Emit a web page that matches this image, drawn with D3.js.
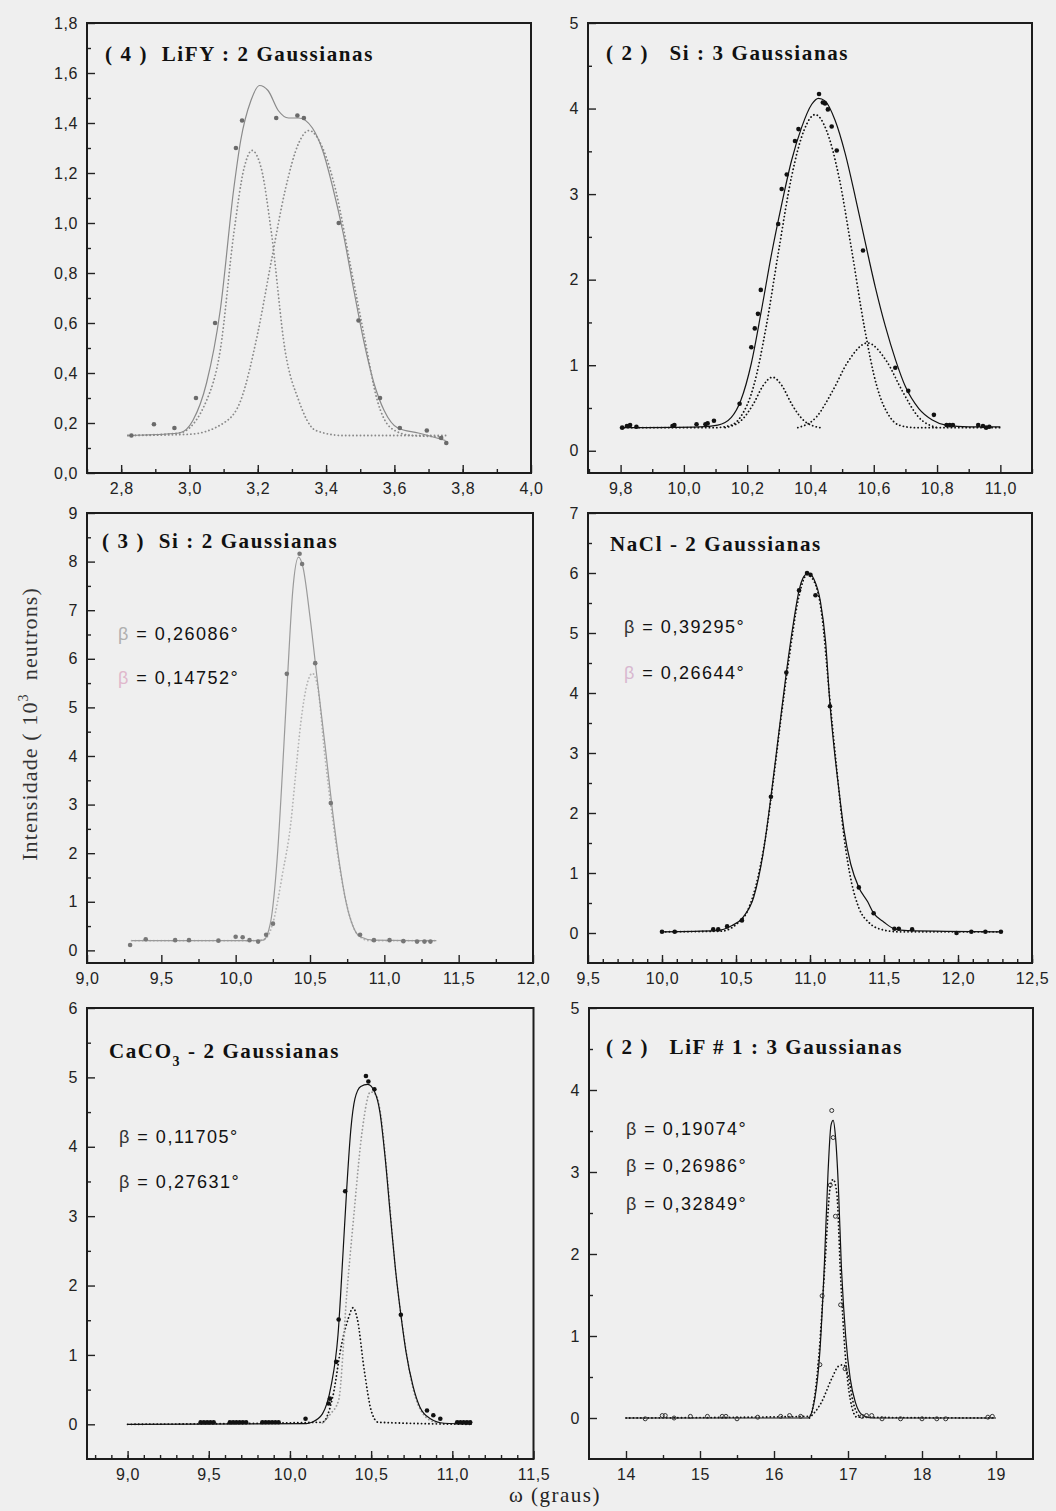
<!DOCTYPE html>
<html>
<head>
<meta charset="utf-8">
<script src="https://cdn.jsdelivr.net/npm/d3@7"></script>
<style>
  body { margin: 0; background: #efefef; }
  svg { display: block; }
</style>
</head>
<body>
<svg width="1056" height="1511"></svg>
<script>
// ---- (4) LiFY ----
var p1XTicks = [2.8, 3.0, 3.2, 3.4, 3.6, 3.8, 4.0],
    p1YTicks = [0, 0.2, 0.4, 0.6, 0.8, 1.0, 1.2, 1.4, 1.6, 1.8];
var p1Dots = [[2.83,0.15],[2.896,0.195],[2.956,0.18],[3.019,0.30],[3.075,0.60],[3.136,1.30],[3.154,1.41],[3.254,1.42],[3.316,1.43],[3.335,1.42],[3.437,1.00],[3.495,0.61],[3.558,0.30],[3.616,0.18],[3.695,0.17],[3.737,0.14],[3.752,0.12]];
var p1Fit = [[2.82,0.15],[2.97,0.16],[3.01,0.21],[3.05,0.36],[3.09,0.65],[3.13,1.14],[3.15,1.33],[3.18,1.49],[3.205,1.55],[3.23,1.53],[3.26,1.45],[3.29,1.42],[3.32,1.42],[3.36,1.38],[3.39,1.29],[3.42,1.14],[3.45,0.96],[3.48,0.74],[3.51,0.53],[3.54,0.36],[3.57,0.25],[3.61,0.18],[3.67,0.16],[3.75,0.13]];
var p1G1 = [[2.82,0.15],[2.97,0.16],[3.05,0.29],[3.09,0.49],[3.13,0.96],[3.16,1.22],[3.183,1.29],[3.21,1.22],[3.24,0.96],[3.28,0.49],[3.32,0.29],[3.37,0.17],[3.45,0.15],[3.75,0.15]];
var p1G2 = [[2.82,0.15],[3.0,0.155],[3.10,0.20],[3.15,0.29],[3.20,0.56],[3.24,0.85],[3.28,1.13],[3.32,1.32],[3.35,1.37],[3.39,1.30],[3.43,1.12],[3.47,0.84],[3.51,0.56],[3.55,0.29],[3.59,0.18],[3.65,0.15],[3.75,0.145]];

// ---- (2) Si : 3 Gaussianas ----
var p2XTicks = [9.8, 10.0, 10.2, 10.4, 10.6, 10.8, 11.0],
    p2YTicks = [0, 1, 2, 3, 4, 5];
var p2Dots = [[9.805,0.27],[9.82,0.29],[9.83,0.30],[9.85,0.28],[9.964,0.29],[9.97,0.30],[10.04,0.31],[10.068,0.31],[10.075,0.32],[10.095,0.35],[10.176,0.55],[10.213,1.21],[10.224,1.43],[10.234,1.60],[10.243,1.88],[10.298,2.65],[10.309,3.06],[10.325,3.23],[10.351,3.62],[10.362,3.76],[10.427,4.17],[10.439,4.07],[10.446,4.06],[10.455,3.99],[10.467,3.79],[10.483,3.51],[10.566,2.34],[10.668,0.97],[10.709,0.70],[10.79,0.42],[10.83,0.30],[10.84,0.30],[10.85,0.30],[10.93,0.30],[10.945,0.29],[10.955,0.27],[10.965,0.28]];
var p2Fit = [[9.80,0.27],[10.05,0.28],[10.107,0.30],[10.15,0.39],[10.18,0.59],[10.213,1.02],[10.245,1.64],[10.277,2.30],[10.309,2.88],[10.34,3.39],[10.372,3.78],[10.404,4.05],[10.425,4.12],[10.446,4.09],[10.478,3.86],[10.51,3.47],[10.542,2.96],[10.574,2.42],[10.605,1.91],[10.637,1.45],[10.669,1.06],[10.70,0.75],[10.743,0.49],[10.785,0.36],[10.828,0.30],[10.9,0.28],[11.0,0.28]];
var p2Main = [[9.80,0.27],[10.10,0.27],[10.15,0.30],[10.18,0.40],[10.22,0.75],[10.26,1.45],[10.30,2.35],[10.34,3.20],[10.38,3.75],[10.415,3.93],[10.45,3.75],[10.49,3.20],[10.53,2.35],[10.57,1.45],[10.61,0.75],[10.65,0.40],[10.68,0.30],[10.73,0.27],[11.0,0.27]];
var p2Left = [[10.13,0.27],[10.18,0.35],[10.22,0.55],[10.25,0.76],[10.28,0.86],[10.31,0.76],[10.34,0.55],[10.38,0.35],[10.43,0.27]];
var p2Right = [[10.36,0.27],[10.42,0.40],[10.47,0.70],[10.52,1.05],[10.58,1.26],[10.64,1.05],[10.69,0.70],[10.74,0.40],[10.80,0.27]];

// ---- (3) Si : 2 Gaussianas ----
var p3XTicks = [9.0, 9.5, 10.0, 10.5, 11.0, 11.5, 12.0],
    p3YTicks = [0, 1, 2, 3, 4, 5, 6, 7, 8, 9];
var p3Dots = [[9.29,0.11],[9.395,0.23],[9.593,0.21],[9.686,0.21],[9.884,0.20],[10.0,0.28],[10.047,0.27],[10.093,0.21],[10.151,0.18],[10.205,0.32],[10.251,0.55],[10.344,5.69],[10.43,8.16],[10.447,7.95],[10.535,5.91],[10.64,3.03],[10.837,0.32],[10.93,0.21],[11.035,0.21],[11.128,0.19],[11.22,0.18],[11.27,0.18],[11.31,0.18]];
var p3Fit = [[9.30,0.2],[10.10,0.2],[10.186,0.21],[10.233,0.55],[10.28,1.92],[10.314,3.64],[10.349,5.62],[10.384,7.40],[10.423,8.09],[10.453,7.88],[10.5,6.86],[10.547,5.62],[10.605,4.12],[10.651,2.88],[10.698,1.79],[10.744,0.97],[10.79,0.49],[10.837,0.28],[10.93,0.21],[11.35,0.2]];
var p3Big = [[9.30,0.2],[10.15,0.2],[10.2,0.24],[10.25,0.56],[10.316,1.59],[10.371,2.62],[10.404,3.65],[10.438,4.68],[10.482,5.5],[10.516,5.7],[10.55,5.45],[10.6,4.0],[10.65,2.75],[10.7,1.7],[10.75,0.9],[10.8,0.42],[10.85,0.25],[10.9,0.2],[11.35,0.2]];

// ---- NaCl - 2 Gaussianas ----
var p4XTicks = [9.5, 10.0, 10.5, 11.0, 11.5, 12.0, 12.5],
    p4YTicks = [0, 1, 2, 3, 4, 5, 6, 7];
var p4Dots = [[10.0,0.02],[10.086,0.02],[10.346,0.06],[10.38,0.06],[10.44,0.11],[10.54,0.21],[10.736,2.27],[10.84,4.34],[10.926,5.71],[10.98,6.0],[11.003,5.97],[11.037,5.63],[11.135,3.78],[11.33,0.76],[11.43,0.33],[11.57,0.07],[11.60,0.07],[11.69,0.06],[11.99,0.0],[12.09,0.02],[12.185,0.02],[12.29,0.02]];
var p4Fit = [[10.0,0.02],[10.37,0.04],[10.47,0.12],[10.55,0.27],[10.62,0.6],[10.686,1.37],[10.736,2.27],[10.788,3.31],[10.84,4.34],[10.89,5.2],[10.926,5.71],[10.958,5.94],[10.99,6.0],[11.026,5.9],[11.07,5.53],[11.105,4.86],[11.135,3.81],[11.16,3.15],[11.196,2.37],[11.23,1.71],[11.275,1.15],[11.33,0.76],[11.39,0.52],[11.43,0.33],[11.5,0.18],[11.57,0.07],[11.66,0.04],[12.29,0.02]];
var p4Comp = [[10.0,0.02],[10.40,0.03],[10.50,0.14],[10.58,0.38],[10.65,0.95],[10.70,1.6],[10.75,2.5],[10.80,3.5],[10.86,4.6],[10.92,5.55],[10.98,5.97],[11.03,5.85],[11.08,5.3],[11.13,4.0],[11.18,2.75],[11.23,1.6],[11.28,0.85],[11.33,0.42],[11.40,0.17],[11.48,0.06],[11.6,0.02],[12.29,0.02]];

// ---- CaCO3 - 2 Gaussianas ----
var p5XTicks = [9.0, 9.5, 10.0, 10.5, 11.0, 11.5],
    p5YTicks = [0, 1, 2, 3, 4, 5, 6];
var p5Dots = [[9.45,0.03],[9.47,0.03],[9.49,0.03],[9.51,0.03],[9.53,0.03],[9.63,0.03],[9.65,0.03],[9.67,0.03],[9.69,0.03],[9.71,0.03],[9.73,0.03],[9.83,0.03],[9.85,0.03],[9.87,0.03],[9.89,0.03],[9.91,0.03],[9.93,0.03],[10.096,0.08],[10.238,0.30],[10.246,0.37],[10.285,0.90],[10.30,1.51],[10.34,3.36],[10.468,5.02],[10.483,4.94],[10.52,4.83],[10.683,1.58],[10.844,0.20],[10.883,0.13],[10.926,0.08],[11.03,0.03],[11.05,0.03],[11.07,0.03],[11.09,0.03],[11.11,0.03]];
var p5Fit = [[9.0,0.0],[10.1,0.01],[10.135,0.03],[10.2,0.15],[10.253,0.55],[10.296,1.29],[10.328,2.52],[10.35,3.41],[10.375,4.25],[10.40,4.69],[10.436,4.87],[10.479,4.90],[10.522,4.79],[10.554,4.50],[10.586,3.85],[10.618,3.02],[10.65,2.23],[10.683,1.58],[10.715,1.04],[10.758,0.55],[10.80,0.25],[10.865,0.08],[10.95,0.015],[11.12,0.0]];
var p5Small = [[9.0,0],[10.2,0.03],[10.264,0.40],[10.317,1.14],[10.36,1.53],[10.388,1.68],[10.414,1.53],[10.457,0.79],[10.5,0.2],[10.543,0.03],[11.12,0]];
var p5Big = [[10.2,0.02],[10.25,0.15],[10.30,0.35],[10.35,1.88],[10.393,3.0],[10.446,4.25],[10.496,4.79],[10.53,4.75],[10.56,4.45],[10.6,3.55],[10.65,2.23],[10.7,1.3],[10.76,0.5],[10.82,0.15],[10.9,0.02]];

// ---- (2) LiF #1 : 3 Gaussianas ----
var p6XTicks = [14, 15, 16, 17, 18, 19],
    p6YTicks = [0, 1, 2, 3, 4, 5];
var p6Dots = [[14.26,-0.01],[14.49,0.03],[14.53,0.03],[14.65,0.0],[14.87,0.02],[15.1,0.02],[15.3,0.02],[15.35,0.02],[15.5,-0.01],[15.78,0.01],[16.09,0.02],[16.21,0.03],[16.36,0.02],[16.62,0.65],[16.65,1.49],[16.76,2.84],[16.78,3.75],[16.80,3.42],[16.83,2.46],[16.9,1.38],[16.96,0.6],[17.19,0.02],[17.25,0.03],[17.32,0.03],[17.46,-0.01],[17.71,-0.01],[18.0,-0.01],[18.2,-0.01],[18.32,-0.01],[18.89,0.01],[18.95,0.02]];
var p6Fit = [[14.0,0],[16.46,0],[16.55,0.23],[16.62,0.81],[16.68,1.86],[16.73,2.99],[16.77,3.57],[16.80,3.63],[16.83,3.44],[16.87,2.82],[16.91,1.86],[16.97,0.98],[17.03,0.48],[17.10,0.19],[17.19,0.04],[17.32,0],[19.0,0]];
var p6Big = [[14.0,0],[16.48,0.02],[16.6,0.69],[16.69,1.9],[16.76,2.82],[16.8,2.91],[16.85,2.73],[16.9,1.73],[16.96,0.81],[17.03,0.23],[17.12,0.01],[19.0,0]];
var p6Small = [[16.48,0],[16.64,0.19],[16.78,0.48],[16.87,0.63],[16.94,0.65],[17.0,0.52],[17.07,0.19],[17.16,0.01]];

var svg = d3.select("svg");
svg.append("rect").attr("width", 1056).attr("height", 1511).attr("fill", "#efefef");

var fmt1 = function(d) { return d3.format(".1f")(d).replace(".", ","); },
    fmt0 = d3.format("d");

var panels = [
  {l: 87, r: 531, t: 23, b: 473, xd: [2.7, 4.0], yd: [0, 1.8],
   xt: p1XTicks, yt: p1YTicks, xm: d3.range(2.7, 4.0, 0.1), ym: d3.range(0.1, 1.8, 0.2),
   xf: fmt1, yf: fmt1, gray: "#8a8a8a", dotc: "#6a6a6a",
   fit: p1Fit, comps: [p1G1, p1G2], dots: p1Dots,
   title: [{x: 105, y: 61, t: "( 4 )  LiFY : 2 Gaussianas"}], betas: []},
  {l: 588, r: 1032, t: 23, b: 473, xd: [9.697, 11.1], yd: [-0.26, 5],
   xt: p2XTicks, yt: p2YTicks, xm: d3.range(9.7, 11.1, 0.2), ym: d3.range(0.5, 5, 1),
   xf: fmt1, yf: fmt0,
   fit: p2Fit, comps: [p2Main, p2Left, p2Right], dots: p2Dots,
   title: [{x: 606, y: 60, t: "( 2 )   Si : 3 Gaussianas"}], betas: []},
  {l: 87, r: 533, t: 513, b: 963, xd: [9.0, 12.0], yd: [-0.26, 9],
   xt: p3XTicks, yt: p3YTicks, xm: d3.range(9.25, 12, 0.5), ym: d3.range(0.5, 9, 1),
   xf: fmt1, yf: fmt0, gray: "#9a9a9a", dotc: "#777", compc: "#b4b4b4",
   fit: p3Fit, comps: [p3Big], dots: p3Dots,
   title: [{x: 102, y: 548, t: "( 3 )  Si : 2 Gaussianas"}],
   betas: [{x: 118, y: 640, t: "0,26086", bc: "#b0b0b0"}, {x: 118, y: 684, t: "0,14752", bc: "#e0b8cc"}]},
  {l: 588, r: 1032, t: 513, b: 963, xd: [9.5, 12.5], yd: [-0.5, 7],
   xt: p4XTicks, yt: p4YTicks, xm: d3.range(9.6, 12.5, 0.1), ym: d3.range(0.5, 7, 1),
   xf: fmt1, yf: fmt0,
   fit: p4Fit, comps: [p4Comp], dots: p4Dots,
   title: [{x: 610, y: 551, t: "NaCl - 2 Gaussianas"}],
   betas: [{x: 624, y: 633, t: "0,39295"}, {x: 624, y: 679, t: "0,26644", bc: "#d8b8d0"}]},
  {l: 87, r: 533.5, t: 1008, b: 1459, xd: [8.75, 11.5], yd: [-0.5, 6],
   xt: p5XTicks, yt: p5YTicks, xm: d3.range(8.8, 11.5, 0.1), ym: d3.range(0.5, 6, 1),
   xf: fmt1, yf: fmt0,
   fit: p5Fit, comps: [p5Small, p5Big], dots: p5Dots, bigc: "#9a9a9a",
   title: [{x: 109, y: 1058, t: "CaCO", sub: "3", rest: " - 2 Gaussianas"}],
   betas: [{x: 119, y: 1143, t: "0,11705"}, {x: 119, y: 1188, t: "0,27631"}]},
  {l: 589, r: 1033, t: 1008, b: 1459, xd: [13.5, 19.5], yd: [-0.5, 5],
   xt: p6XTicks, yt: p6YTicks, xm: d3.range(14.5, 19.5, 1), ym: d3.range(0.5, 5, 1),
   xf: fmt0, yf: fmt0, open: true,
   fit: p6Fit, comps: [p6Big, p6Small], dots: p6Dots,
   title: [{x: 606, y: 1054, t: "( 2 )   LiF # 1 : 3 Gaussianas"}],
   betas: [{x: 626, y: 1135, t: "0,19074"}, {x: 626, y: 1172, t: "0,26986"}, {x: 626, y: 1210, t: "0,32849"}]}
];

panels.forEach(drawPanel);

function drawPanel(p) {
  var x = d3.scaleLinear().domain(p.xd).range([p.l, p.r]),
      y = d3.scaleLinear().domain(p.yd).range([p.b, p.t]);
  var g = svg.append("g");

  g.append("g")
      .attr("transform", "translate(0," + p.b + ")")
      .call(d3.axisBottom(x).tickValues(p.xm).tickSize(-4).tickFormat(""));
  g.append("g")
      .attr("transform", "translate(0," + p.b + ")")
      .call(d3.axisBottom(x).tickValues(p.xt).tickSize(-8).tickPadding(10).tickFormat(p.xf));
  g.append("g")
      .attr("transform", "translate(" + p.l + ",0)")
      .call(d3.axisLeft(y).tickValues(p.ym).tickSize(-4).tickFormat(""));
  g.append("g")
      .attr("transform", "translate(" + p.l + ",0)")
      .call(d3.axisLeft(y).tickValues(p.yt).tickSize(-8).tickPadding(9).tickFormat(p.yf));

  g.selectAll(".domain").remove();
  g.selectAll(".tick line").attr("stroke", "#222").attr("stroke-width", 1.4);
  g.selectAll(".tick text")
      .attr("font-family", "'Liberation Sans', Arial, sans-serif")
      .attr("font-size", 16)
      .attr("letter-spacing", 0.6)
      .attr("fill", "#222");

  g.append("rect")
      .attr("x", p.l).attr("y", p.t)
      .attr("width", p.r - p.l).attr("height", p.b - p.t)
      .attr("fill", "none").attr("stroke", "#1c1c1c").attr("stroke-width", 2);

  var line = d3.line()
      .curve(d3.curveMonotoneX)
      .x(function(d) { return x(d[0]); })
      .y(function(d) { return y(d[1]); });

  p.comps.forEach(function(c, i) {
    var col = p.compc || p.gray || "#111";
    if (p.bigc && i === 1) col = p.bigc;
    g.append("path")
        .datum(c)
        .attr("d", line)
        .attr("fill", "none")
        .attr("stroke", col)
        .attr("stroke-width", 1.8)
        .attr("stroke-linecap", "round")
        .attr("stroke-dasharray", "0.1,3.6");
  });

  g.append("path")
      .datum(p.fit)
      .attr("d", line)
      .attr("fill", "none")
      .attr("stroke", p.gray || "#111")
      .attr("stroke-width", 1.2);

  g.selectAll("circle.pt")
      .data(p.dots)
      .enter().append("circle")
      .attr("class", "pt")
      .attr("cx", function(d) { return x(d[0]); })
      .attr("cy", function(d) { return y(d[1]); })
      .attr("r", p.open ? 2 : 2.3)
      .attr("fill", p.open ? "none" : (p.dotc || "#111"))
      .attr("stroke", p.open ? "#333" : "none")
      .attr("stroke-width", 1);

  p.title.forEach(function(t) {
    var tx = g.append("text")
        .attr("x", t.x).attr("y", t.y)
        .attr("font-family", "'Liberation Serif', 'Times New Roman', serif")
        .attr("font-weight", "bold")
        .attr("font-size", 21)
        .attr("letter-spacing", 1.6)
        .attr("fill", "#111")
        .style("white-space", "pre")
        .text(t.t);
    if (t.sub) {
      tx.append("tspan").attr("dy", 8).attr("font-size", 14).text(t.sub);
      tx.append("tspan").attr("dy", -8).text(t.rest);
    }
  });

  p.betas.forEach(function(b) {
    var tx = g.append("text")
        .attr("x", b.x).attr("y", b.y)
        .attr("font-family", "'Liberation Sans', Arial, sans-serif")
        .attr("font-size", 18)
        .attr("letter-spacing", 1.5)
        .attr("fill", "#111")
        .style("white-space", "pre");
    tx.append("tspan").attr("fill", b.bc || "#333").text("β");
    tx.append("tspan").text(" = " + b.t + "°");
  });
}

var yl = svg.append("text")
    .attr("transform", "translate(37,724) rotate(-90)")
    .attr("text-anchor", "middle")
    .attr("font-family", "'Liberation Serif', 'Times New Roman', serif")
    .attr("font-size", 22)
    .attr("letter-spacing", 1.1)
    .attr("fill", "#333")
    .style("white-space", "pre");
yl.append("tspan").text("Intensidade ( 10");
yl.append("tspan").attr("dy", -9).attr("font-size", 14).text("3");
yl.append("tspan").attr("dy", 9).text("  neutrons)");

svg.append("text")
    .attr("x", 555).attr("y", 1502)
    .attr("text-anchor", "middle")
    .attr("font-family", "'Liberation Serif', 'Times New Roman', serif")
    .attr("font-size", 21)
    .attr("letter-spacing", 1.5)
    .attr("fill", "#222")
    .text("ω (graus)");
</script>
</body>
</html>
